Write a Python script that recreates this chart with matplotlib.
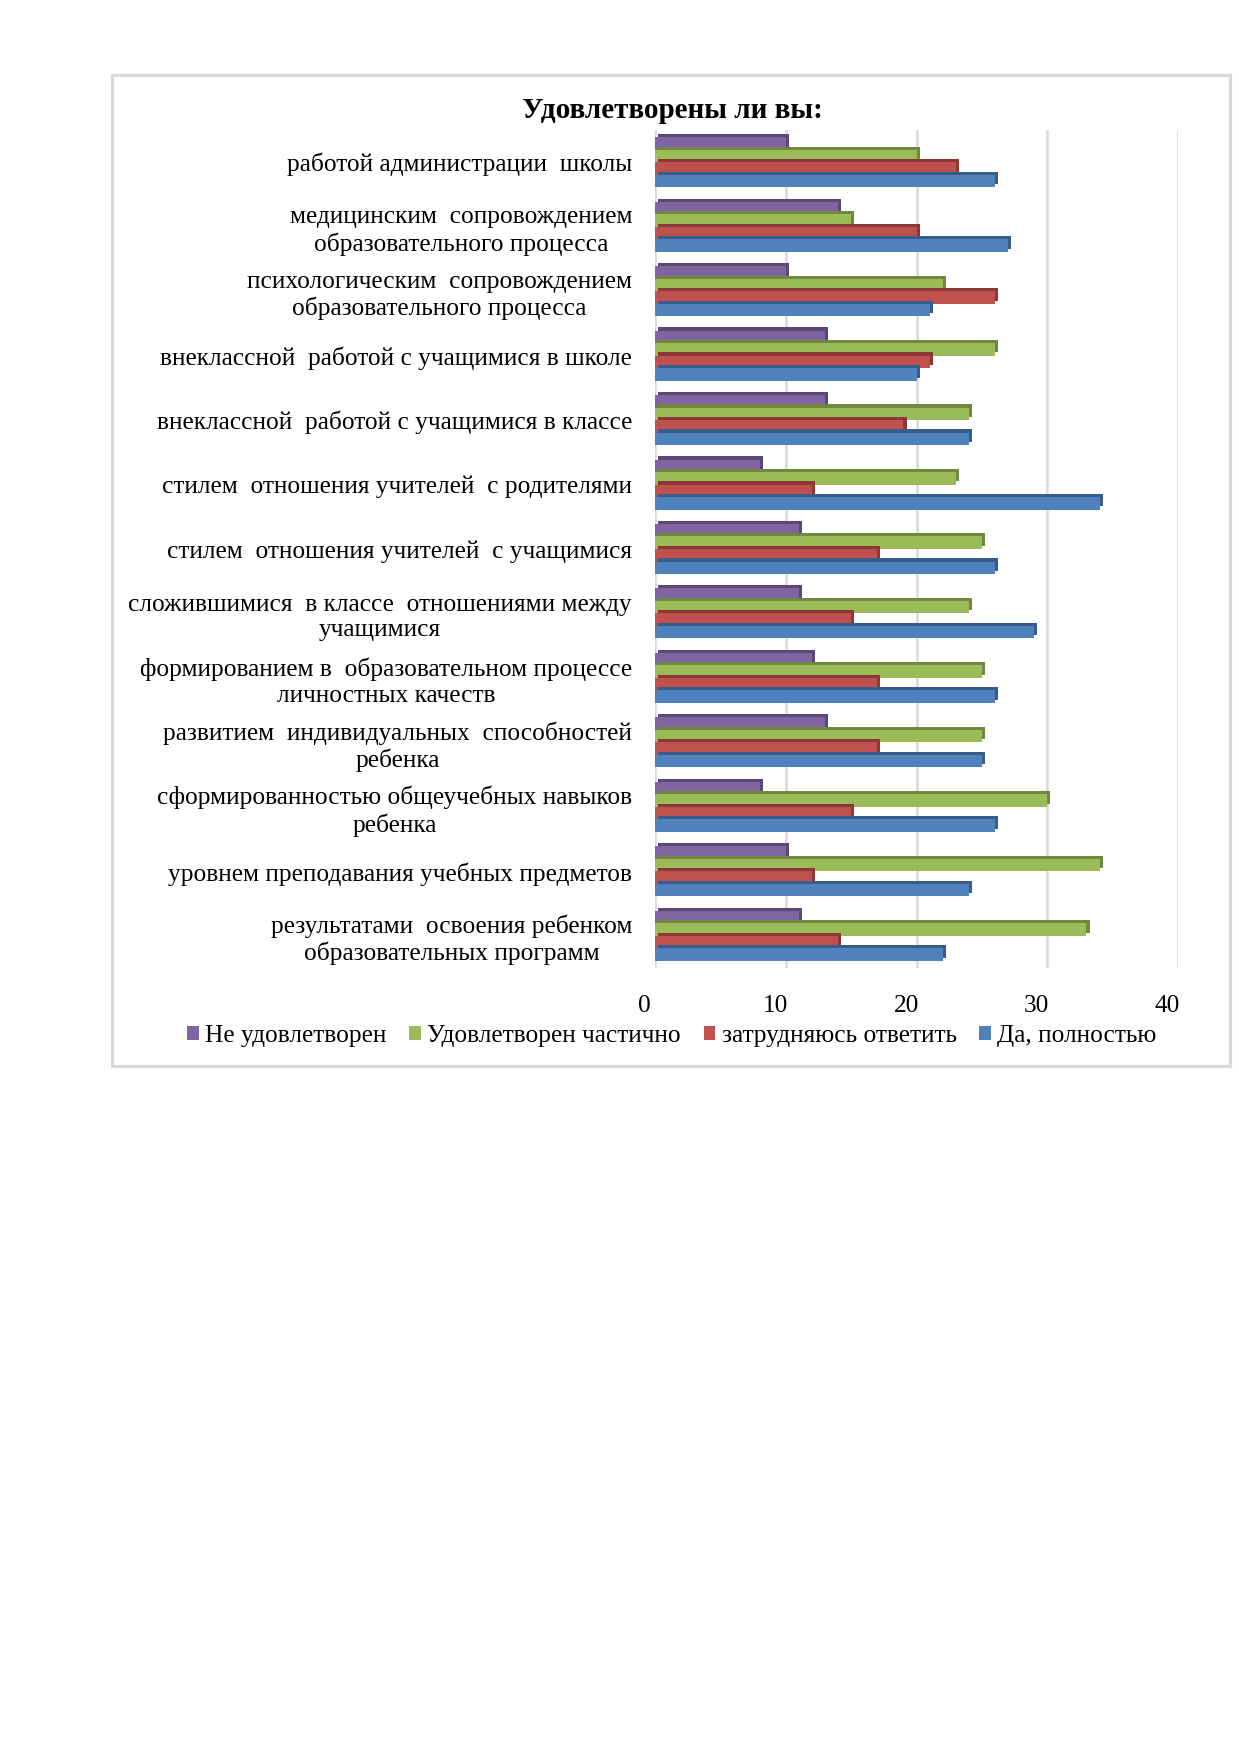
import matplotlib
matplotlib.use("Agg")
import matplotlib.pyplot as plt
import matplotlib.patheffects as pe
import matplotlib.transforms as mtransforms
from matplotlib.patches import Rectangle, Patch
import numpy as np

plt.rcParams['font.family'] = ['Liberation Serif', 'DejaVu Serif']

title = "Удовлетворены ли вы:"
categories = [
    "работой администрации  школы",
    "медицинским  сопровождением\nобразовательного процесса",
    "психологическим  сопровождением\nобразовательного процесса",
    "внеклассной  работой с учащимися в школе",
    "внеклассной  работой с учащимися в классе",
    "стилем  отношения учителей  с родителями",
    "стилем  отношения учителей  с учащимися",
    "сложившимися  в классе  отношениями между\nучащимися",
    "формированием в  образовательном процессе\nличностных качеств",
    "развитием  индивидуальных  способностей\nребенка",
    "сформированностью общеучебных навыков\nребенка",
    "уровнем преподавания учебных предметов",
    "результатами  освоения ребенком\nобразовательных программ",
]
series_names = ["Не удовлетворен", "Удовлетворен частично", "затрудняюсь ответить", "Да, полностью"]
ne_udovl   = [10, 14, 10, 13, 13, 8, 11, 11, 12, 13, 8, 10, 11]
chastichno = [20, 15, 22, 26, 24, 23, 25, 24, 25, 25, 30, 34, 33]
zatrud     = [23, 20, 26, 21, 19, 12, 17, 15, 17, 17, 15, 12, 14]
da_poln    = [26, 27, 21, 20, 24, 34, 26, 29, 26, 25, 26, 24, 22]
xticks = [0, 10, 20, 30, 40]

colors = ["#8064A2", "#9BBB59", "#C0504D", "#4F81BD"]
darks = ["#5C4776", "#71893F", "#8C3836", "#385D8A"]

fig = plt.figure(figsize=(1239/150, 1752/150), dpi=150)
# chart frame
fig.patches.append(Rectangle((112/1239, 1-1066/1752), (1230-112)/1239, (1066-75)/1752,
                             transform=fig.transFigure, facecolor='none',
                             edgecolor='#D9D9D9', linewidth=1.5))

ax = fig.add_axes([655/1239, 1-968/1752, 523/1239, (968-130)/1752])
y = np.arange(len(categories))
bh = 0.194
data = [ne_udovl, chastichno, zatrud, da_poln]
for i, (vals, c, d, name) in enumerate(zip(data, colors, darks, series_names)):
    off = (i - 1.5) * bh
    ax.barh(y + off, vals, height=bh, color=c, zorder=3,
            path_effects=[pe.SimplePatchShadow(offset=(1.5, 1.5), shadow_rgbFace=d, alpha=1.0),
                          pe.Normal()])

ax.set_ylim(len(categories) - 0.5, -0.5)
ax.set_xlim(0, 40)
ax.set_xticks(xticks)
ax.set_yticks(y)
ax.set_yticklabels(categories, fontsize=12.2)
for lbl in ax.get_yticklabels():
    lbl.set_multialignment('center')
ax.tick_params(axis='y', length=0, pad=11)
ax.tick_params(axis='x', length=0, pad=13, labelsize=12.2)
shift = mtransforms.ScaledTranslation(-5/72, 0, fig.dpi_scale_trans)
for lbl in ax.get_xticklabels():
    lbl.set_transform(lbl.get_transform() + shift)
ax.grid(axis='x', color='#D9D9D9', linewidth=1.2, zorder=0)
for s in ax.spines.values():
    s.set_visible(False)

fig.text(672/1239, 1-110/1752, title, ha='center', va='center', fontsize=14, fontweight='bold')

handles = [Patch(facecolor=c, edgecolor='none') for c in colors]
fig.legend(handles, series_names, loc='center', bbox_to_anchor=(672/1239, 1-1036/1752), ncol=4,
           frameon=False, fontsize=12.2, handlelength=0.45, handleheight=0.45,
           handletextpad=0.25, columnspacing=0.9)

fig.savefig("out.png", dpi=150)
